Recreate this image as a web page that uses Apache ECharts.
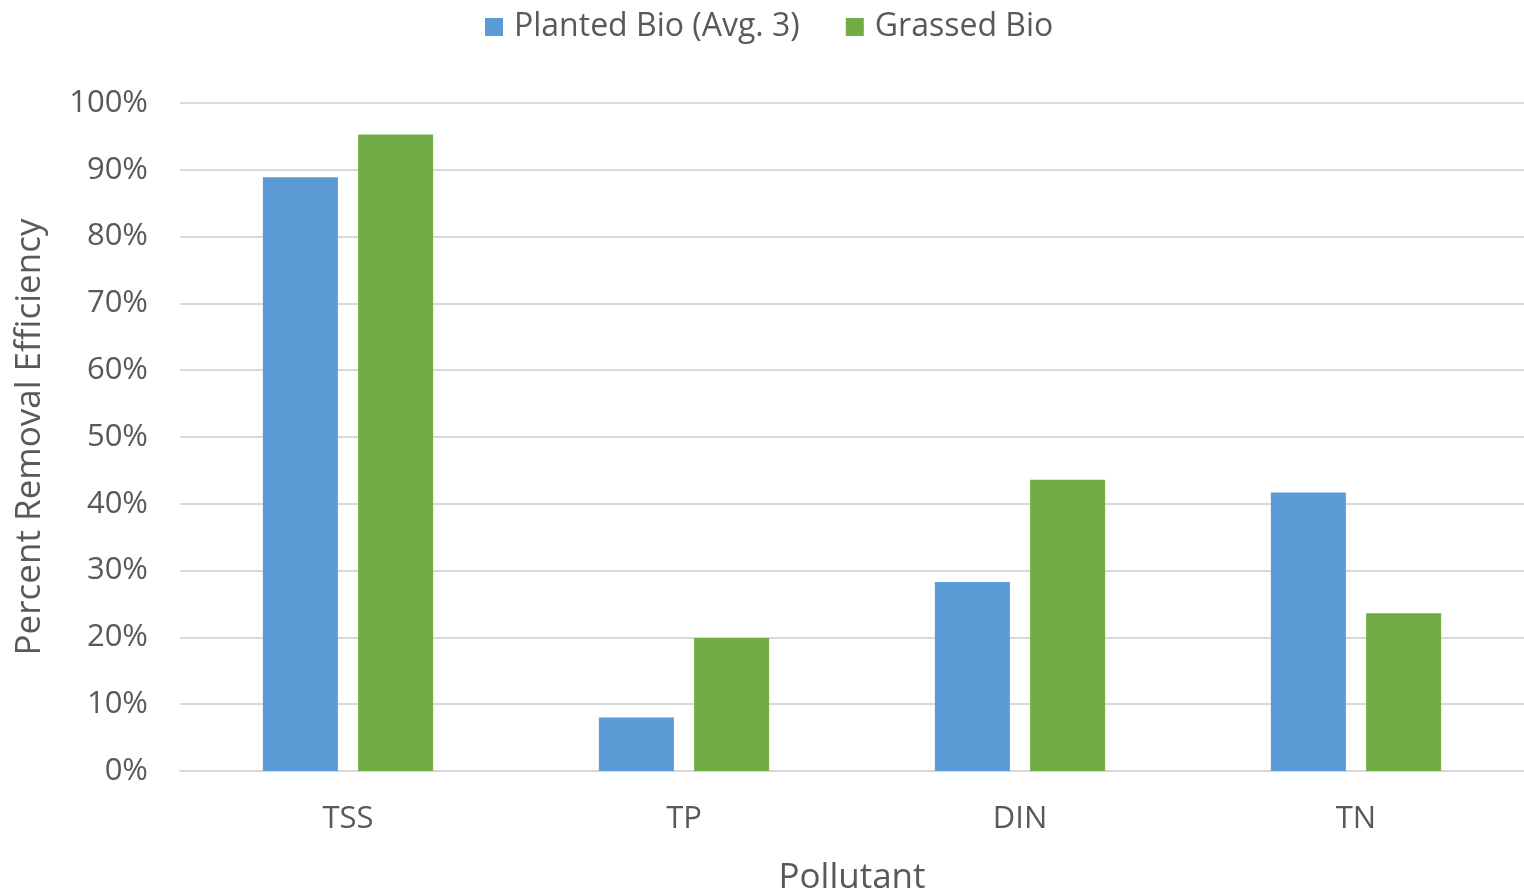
<!DOCTYPE html>
<html>
<head>
<meta charset="utf-8">
<script src="https://cdn.jsdelivr.net/npm/echarts@6/dist/echarts.min.js"></script>
<style>html,body{margin:0;padding:0;background:#fff;}#c{width:1524px;height:891px;}</style>
</head>
<body>
<div id="c"></div>
<script>
const categories = ['TSS', 'TP', 'DIN', 'TN'];
const plantedBio = [88.9, 8.0, 28.3, 41.7];
const grassedBio = [95.3, 19.9, 43.6, 23.6];
const seriesNames = ['Planted Bio (Avg. 3)', 'Grassed Bio'];
const yTicks = [0, 10, 20, 30, 40, 50, 60, 70, 80, 90, 100];

const FONT = '"Open Sans", "Noto Sans", sans-serif';
const TXT = '#595959';
const chart = echarts.init(document.getElementById('c'));
chart.setOption({
  animation: false,
  textStyle: { fontFamily: FONT, color: TXT },
  legend: {
    data: seriesNames,
    top: 6,
    left: 480,
    itemWidth: 18,
    itemHeight: 18,
    itemGap: 46,
    icon: 'rect',
    textStyle: { fontFamily: FONT, fontSize: 32, color: TXT, padding: [0, 0, 0, 6] }
  },
  grid: { left: 180, right: 0, top: 103, bottom: 120, containLabel: false, outerBoundsMode: 'none' },
  xAxis: {
    type: 'category',
    data: categories,
    name: 'Pollutant',
    nameLocation: 'middle',
    nameGap: 90,
    nameTextStyle: { fontFamily: FONT, fontSize: 35, color: TXT },
    axisLine: { lineStyle: { color: '#D9D9D9', width: 2 } },
    axisTick: { show: false },
    axisLabel: { fontFamily: FONT, fontSize: 31, color: TXT, margin: 33 }
  },
  yAxis: {
    type: 'value',
    min: yTicks[0],
    max: yTicks[yTicks.length - 1],
    interval: 10,
    name: 'Percent Removal Efficiency',
    nameLocation: 'middle',
    nameGap: 132,
    nameTextStyle: { fontFamily: FONT, fontSize: 35, color: TXT },
    axisLine: { show: false },
    axisTick: { show: false },
    axisLabel: { fontFamily: FONT, fontSize: 31, color: TXT, margin: 32, formatter: '{value}%' },
    splitLine: { lineStyle: { color: '#D9D9D9', width: 2 } }
  },
  series: [
    { name: seriesNames[0], type: 'bar', data: plantedBio, barWidth: 75, barGap: '27%',
      itemStyle: { color: '#5B9BD5' } },
    { name: seriesNames[1], type: 'bar', data: grassedBio, barWidth: 75, barGap: '27%',
      itemStyle: { color: '#70AD47' } }
  ]
});
</script>
</body>
</html>
